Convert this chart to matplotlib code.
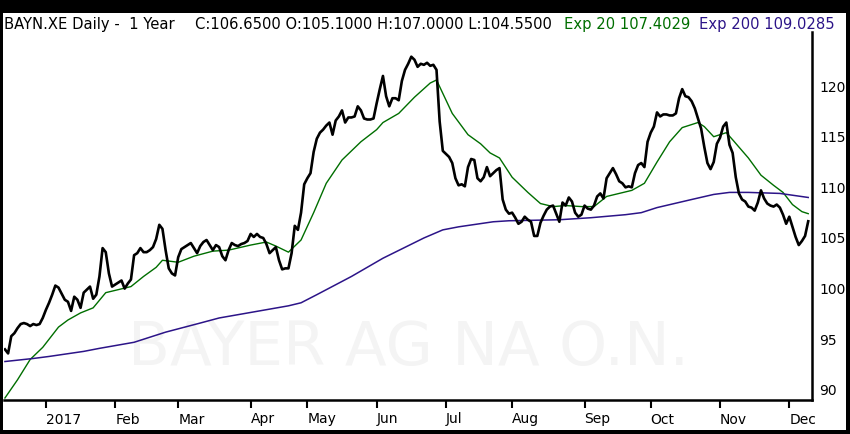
import numpy as np
import pandas as pd
import matplotlib
matplotlib.use("Agg")
import matplotlib.pyplot as plt
from matplotlib.patches import Rectangle

# Daily closes, one per trading day (Xetra)
close = [
    94.0, 93.6, 95.3, 95.6, 96.1, 96.5, 96.6, 96.5, 96.3, 96.5,
    96.4, 96.5, 97.1, 97.9, 98.6, 99.4, 100.3, 100.1, 99.5, 98.9,
    98.7, 97.8, 99.2, 98.9, 98.1, 99.6, 99.9, 100.2, 99.0, 99.4,
    101.2, 104.0, 103.6, 101.5, 100.2, 100.4, 100.6, 100.8, 100.0, 100.5,
    100.9, 103.3, 103.5, 104.0, 103.6, 103.6, 103.8, 104.1, 104.9, 106.3,
    105.9, 103.8, 102.0, 101.5, 101.3, 103.1, 103.9, 104.1, 104.3, 104.5,
    104.0, 103.5, 104.2, 104.6, 104.8, 104.3, 103.8, 104.3, 104.1, 103.2,
    102.8, 103.8, 104.5, 104.3, 104.2, 104.4, 104.5, 104.7, 105.4, 105.1,
    105.4, 105.1, 105.0, 104.4, 103.5, 103.8, 104.1, 102.8, 101.9, 102.0,
    102.0, 103.5, 106.2, 105.8, 107.5, 110.3, 110.9, 111.4, 113.5, 114.8,
    115.4, 115.7, 116.1, 116.4, 115.2, 116.6, 117.0, 117.6, 116.4, 116.9,
    116.9, 117.0, 118.0, 117.6, 116.8, 116.7, 116.7, 116.8, 118.3, 119.7,
    121.0, 119.0, 118.0, 118.8, 118.8, 118.6, 120.5, 121.6, 122.2, 122.9,
    122.6, 121.9, 122.2, 122.1, 122.3, 122.0, 122.1, 121.6, 116.5, 113.6,
    113.3, 113.0, 112.4, 110.9, 110.2, 110.3, 110.1, 112.0, 112.8, 112.7,
    110.9, 110.6, 111.0, 112.0, 111.1, 111.4, 111.7, 111.9, 108.8, 107.8,
    107.4, 107.5, 107.0, 106.4, 106.6, 107.1, 106.8, 106.6, 105.2, 105.2,
    106.5, 107.2, 107.8, 108.1, 108.2, 107.4, 106.6, 108.5, 108.2, 109.0,
    108.6, 107.5, 107.1, 107.3, 108.2, 107.9, 107.8, 108.2, 109.1, 109.4,
    108.9, 110.9, 111.4, 111.9, 111.3, 110.6, 110.4, 110.0, 110.1, 110.0,
    111.4, 112.2, 112.4, 112.0, 114.5, 115.4, 116.0, 117.4, 117.0, 117.2,
    117.2, 117.1, 117.1, 117.3, 118.8, 119.7, 119.0, 118.9, 118.5, 117.8,
    116.8, 115.8, 114.0, 112.4, 111.8, 112.5, 114.3, 114.9, 116.0, 116.4,
    114.2, 113.4, 111.0, 109.4, 108.8, 108.6, 108.1, 108.0, 107.7, 108.5,
    109.7, 108.9, 108.4, 108.2, 108.1, 108.3, 108.0, 107.3, 106.4, 107.1,
    106.1, 105.1, 104.3, 104.7, 105.2, 106.65,
]

# Exp 20 / Exp 200 read at selected trading days (index into the day list)
ema20_day = [0, 4, 8, 12, 17, 20, 24, 28, 32, 36, 40, 44, 48, 50, 55, 60, 66,
             71, 78, 83, 86, 90, 94, 98, 102, 107, 113, 118, 120, 125, 130,
             135, 137, 142, 147, 151, 154, 157, 161, 166, 170, 174, 178, 183,
             187, 191, 195, 199, 203, 207, 211, 215, 220, 222, 225, 229, 231,
             236, 240, 244, 247, 250, 253, 255]
ema20 = [89.2, 91.0, 93.0, 94.2, 96.2, 96.9, 97.6, 98.1, 99.6, 99.9, 100.2,
         101.2, 102.1, 102.8, 102.6, 103.2, 103.7, 103.8, 104.3, 104.6, 104.2,
         103.6, 104.8, 107.5, 110.4, 112.7, 114.5, 115.7, 116.4, 117.3, 118.9,
         120.3, 120.6, 117.3, 115.2, 114.3, 113.4, 112.9, 111.0, 109.5, 108.4,
         108.1, 108.2, 108.1, 108.1, 109.1, 109.4, 109.7, 110.4, 112.5, 114.5,
         115.9, 116.4, 116.0, 115.0, 115.4, 114.7, 112.9, 111.2, 110.2, 109.5,
         108.3, 107.6, 107.4]

ema200_day = [0, 9, 14, 25, 30, 41, 51, 62, 68, 90, 94, 99, 110, 120, 133,
              139, 144, 155, 160, 176, 186, 197, 202, 207, 218, 225, 230, 236,
              246, 255]
ema200 = [92.8, 93.1, 93.3, 93.8, 94.1, 94.7, 95.7, 96.6, 97.1, 98.3, 98.6,
          99.4, 101.2, 103.0, 105.0, 105.8, 106.1, 106.6, 106.7, 106.8, 107.0,
          107.3, 107.5, 108.0, 108.8, 109.3, 109.5, 109.5, 109.4, 109.0]

holidays = ["2016-12-26", "2017-04-14", "2017-04-17", "2017-05-01"]
dates = pd.bdate_range("2016-12-13", "2017-12-11")
dates = dates[~dates.isin(pd.to_datetime(holidays))]

y_ticks = [90, 95, 100, 105, 110, 115, 120]
title_main = "BAYN.XE Daily -  1 Year"
title_ohlc = "C:106.6500 O:105.1000 H:107.0000 L:104.5500"
title_ema20 = "Exp 20 107.4029"
title_ema200 = "Exp 200 109.0285"
watermark = "BAYER AG NA O.N."

GREEN = "#006e00"
PURPLE = "#2c1488"

plt.rcParams["font.family"] = ["DejaVu Sans"]

W, H = 850, 434
fig = plt.figure(figsize=(8.5, 4.34), dpi=100)
fig.patch.set_facecolor("black")
# white page inside the black frame
fig.patches.append(Rectangle((3 / W, 4 / H), 843 / W, (H - 4 - 13) / H,
                             transform=fig.transFigure, facecolor="white",
                             edgecolor="none", zorder=-5))

ax = fig.add_axes([4 / W, (H - 400) / H, 808 / W, 368 / H])
ax.set_zorder(2)
ax.set_facecolor("none")

x = np.arange(len(close))
ax.plot(x, close, color="black", lw=1.9, zorder=4)
ax.plot(ema20_day, ema20, color=GREEN, lw=1.0, zorder=3)
ax.plot(ema200_day, ema200, color=PURPLE, lw=1.1, zorder=3)

ax.text(0.50, 0.14, watermark, transform=ax.transAxes, ha="center",
        va="center", fontsize=44, color="#f4f4f4", zorder=1)

ax.set_xlim(-0.3, 256.2)
ax.set_ylim(89.0, 125.34)

# month ticks at the first trading day of each month
s = pd.Series(np.arange(len(dates)), index=dates)
firsts = s.groupby([dates.year, dates.month]).first()
tick_pos, tick_lab = [], []
for (yr, mo), idx in firsts.items():
    if yr == 2016:
        continue
    tick_pos.append(idx)
    tick_lab.append("2017" if mo == 1 else dates[idx].strftime("%b"))
ax.set_xticks(tick_pos)
ax.set_xticklabels(tick_lab, ha="left")
ax.tick_params(axis="x", direction="out", length=6, width=1.5, pad=3,
               labelsize=10, colors="black")

ax.yaxis.tick_right()
ax.set_yticks(y_ticks)
ax.tick_params(axis="y", length=0, pad=5, labelsize=10)

for side in ["top", "left"]:
    ax.spines[side].set_visible(False)
for side in ["bottom", "right"]:
    ax.spines[side].set_linewidth(1.8)
    ax.spines[side].set_color("black")

ty = 1 - 29 / H
fs = 10.6
fig.text(4 / W, ty, title_main, fontsize=fs, color="black", va="baseline")
fig.text(195 / W, ty, title_ohlc, fontsize=fs, color="black", va="baseline")
fig.text(564 / W, ty, title_ema20, fontsize=fs, color=GREEN, va="baseline")
fig.text(699 / W, ty, title_ema200, fontsize=fs, color=PURPLE, va="baseline")

fig.savefig("out.png", dpi=100, facecolor=fig.get_facecolor())
